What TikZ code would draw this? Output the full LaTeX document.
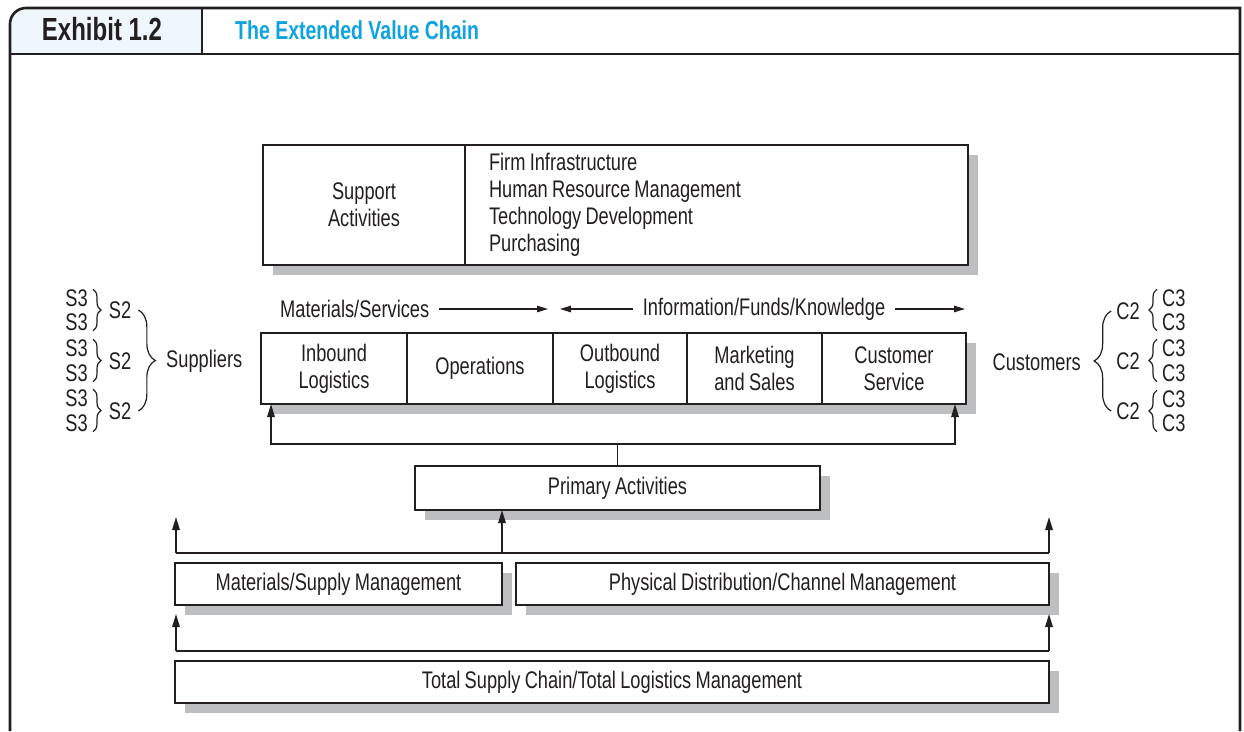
\documentclass[tikz,border=0pt]{standalone}
\usepackage{fontspec}
\setmainfont{Liberation Sans}[FakeStretch=0.76,WordSpace=0.85]
\newfontfamily\headfont{Liberation Sans}[FakeStretch=0.75]
\usepackage{tikz}
\usetikzlibrary{arrows.meta,positioning,calc,fit,backgrounds,shadows,
                decorations.pathreplacing}
\definecolor{ink}{HTML}{231F20}
\definecolor{headblue}{HTML}{0FA3DF}
\definecolor{tabbg}{HTML}{EFF7FC}
\definecolor{shade}{HTML}{BCBEC0}
\tikzset{
  body/.style={font=\fontsize{24}{27}\selectfont,text=ink,inner sep=0pt,
               align=center},
  cell/.style={body,draw=ink,fill=white,line width=1.6pt,outer sep=0pt},
  shadowed/.style={drop shadow={shadow xshift=10pt,shadow yshift=-10pt,
                   fill=shade,opacity=1}},
  link/.style={draw=ink,line width=1.5pt},
  arrowup/.style={link,-{Triangle[length=13pt,width=7.5pt]}},
  flowarrow/.style={draw=ink,line width=1.2pt,-{Triangle[length=11pt,width=6.5pt]}},
  curly/.style={draw=ink,line width=1.2pt,decorate,
                decoration={brace,amplitude=#1}},
  frameline/.style={draw=ink,line width=2.6pt},
}

\begin{document}
\begin{tikzpicture}[x=1pt,y=-1pt]
  \useasboundingbox (0,0) rectangle (1244,731);

  % Exhibit header and frame
  \fill[tabbg] (10,54) -- (10,24) arc[start angle=180,end angle=90,radius=16pt]
    -- (202,8) -- (202,54) -- cycle;
  \draw[frameline] (10,731) -- (10,24)
    arc[start angle=180,end angle=90,radius=16pt] -- (1240,8) -- (1240,731);
  \draw[frameline] (10,54) -- (1240,54);
  \draw[frameline] (202,8) -- (202,54);
  \node[font=\fontsize{32}{32}\selectfont\headfont\bfseries,text=ink,
        inner sep=0pt,anchor=base] (exno) at (102,40) {Exhibit 1.2};
  \node[font=\fontsize{26}{26}\selectfont\headfont\bfseries,text=headblue,
        inner sep=0pt,anchor=base west] (extitle) at (235,39)
    {The Extended Value Chain};

  % Support activities
  \node[cell,minimum width=202pt,minimum height=120pt,anchor=north west]
    (suplabel) at (263,145) {Support\\Activities};
  \node[cell,minimum width=503pt,minimum height=120pt,text width=455pt,
        inner xsep=24pt,align=flush left,right=0pt of suplabel] (suplist)
    {Firm Infrastructure\\Human Resource Management\\
     Technology Development\\Purchasing};

  % Flows above the primary row
  \node[body,anchor=west] (matflow) at (280,309) {Materials/Services};
  \node[body] (infoflow) at (764,309) {Information/Funds/Knowledge};
  \coordinate (matend) at (548,309);
  \coordinate (infoleft) at (560,309);
  \coordinate (inforight) at (965,309);
  \draw[flowarrow,shorten <=10pt] (matflow.east) -- (matend);
  \draw[flowarrow,shorten <=10pt] (infoflow.west) -- (infoleft);
  \draw[flowarrow,shorten <=10pt] (infoflow.east) -- (inforight);

  % Primary row
  \node[cell,minimum width=146pt,minimum height=71pt,anchor=north west]
    (inbound) at (261,333) {Inbound\\Logistics};
  \node[cell,minimum width=146pt,minimum height=71pt,right=0pt of inbound]
    (ops) {Operations};
  \node[cell,minimum width=134pt,minimum height=71pt,right=0pt of ops]
    (outbound) {Outbound\\Logistics};
  \node[cell,minimum width=135pt,minimum height=71pt,right=0pt of outbound]
    (mktsales) {Marketing\\and Sales};
  \node[cell,minimum width=144pt,minimum height=71pt,right=0pt of mktsales]
    (custsvc) {Customer\\Service};

  \begin{scope}[on background layer]
    \node[fit=(suplabel)(suplist),inner sep=0pt,fill=white,shadowed] (suprow) {};
    \node[fit=(inbound)(custsvc),inner sep=0pt,fill=white,shadowed] (primrow) {};
  \end{scope}

  % Primary activities feeding the row
  \node[cell,shadowed,minimum width=405pt,minimum height=44pt,anchor=north west]
    (prim) at (415,466) {Primary Activities};
  \coordinate (inbfeed) at ($(inbound.south west)+(10,0)$);
  \coordinate (csfeed) at ($(custsvc.south east)+(-11,0)$);
  \draw[link] (prim.north) -- ++(0,-22) coordinate (bus);
  \draw[arrowup] (bus) -| (inbfeed);
  \draw[arrowup] (bus) -| (csfeed);

  % Supply and distribution management
  \node[cell,shadowed,minimum width=327pt,minimum height=42pt,anchor=north west]
    (matmgmt) at (175,563) {Materials/Supply Management};
  \node[cell,shadowed,minimum width=533pt,minimum height=42pt,anchor=north west]
    (physmgmt) at (516,563) {Physical Distribution/Channel Management};
  \coordinate (busL) at ($(matmgmt.north west)+(1,-10)$);
  \coordinate (busR) at ($(physmgmt.north east)+(0,-10)$);
  \coordinate (upL) at ($(busL)+(0,-36)$);
  \coordinate (upR) at ($(busR)+(0,-36)$);
  \draw[link] (busL) -- (busR);
  \draw[arrowup] (busL) -- (upL);
  \draw[arrowup] (busR) -- (upR);
  \draw[arrowup] (busL -| matmgmt.north east) -- (matmgmt.north east |- prim.south);

  % Total supply chain
  \node[cell,shadowed,minimum width=874pt,minimum height=42pt,anchor=north west]
    (total) at (175,661) {Total Supply Chain/Total Logistics Management};
  \coordinate (totL) at ($(total.north west)+(1,-10)$);
  \coordinate (totR) at ($(total.north east)+(0,-10)$);
  \draw[link] (totL) -- (totR);
  \draw[arrowup,shorten >=9pt] (totL) -- (totL |- matmgmt.south);
  \draw[arrowup,shorten >=9pt] (totR) -- (totR |- physmgmt.south);

  % Supplier tiers
  \foreach \n/\y in {1/298,2/322,3/348,4/373,5/398,6/423}
    \node[body,anchor=east] (sup\n) at (88,\y) {S3};
  \foreach \n/\y in {1/310,2/361,3/411}
    \node[body] (stwo\n) at (120,\y) {S2};
  \foreach \a/\b in {1/2,3/4,5/6}
    \draw[curly=8pt] ([xshift=5pt]sup\a.north east) -- ([xshift=5pt]sup\b.south east);
  \draw[curly=17pt] ([xshift=7pt]stwo1.east) -- ([xshift=7pt]stwo3.east);
  \node[body,anchor=west] (suppliers) at (166,361) {Suppliers};

  % Customer tiers
  \foreach \n/\y in {1/298,2/322,3/348,4/373,5/399,6/423}
    \node[body,anchor=west] (cus\n) at (1162,\y) {C3};
  \foreach \n/\y in {1/311,2/361,3/411}
    \node[body] (ctwo\n) at (1128,\y) {C2};
  \foreach \a/\b in {1/2,3/4,5/6}
    \draw[curly=8pt] ([xshift=-5pt]cus\b.south west) -- ([xshift=-5pt]cus\a.north west);
  \draw[curly=17pt] ([xshift=-5pt]ctwo3.west) -- ([xshift=-5pt]ctwo1.west);
  \node[body,anchor=east] (customers) at (1081,362) {Customers};
\end{tikzpicture}
\end{document}
